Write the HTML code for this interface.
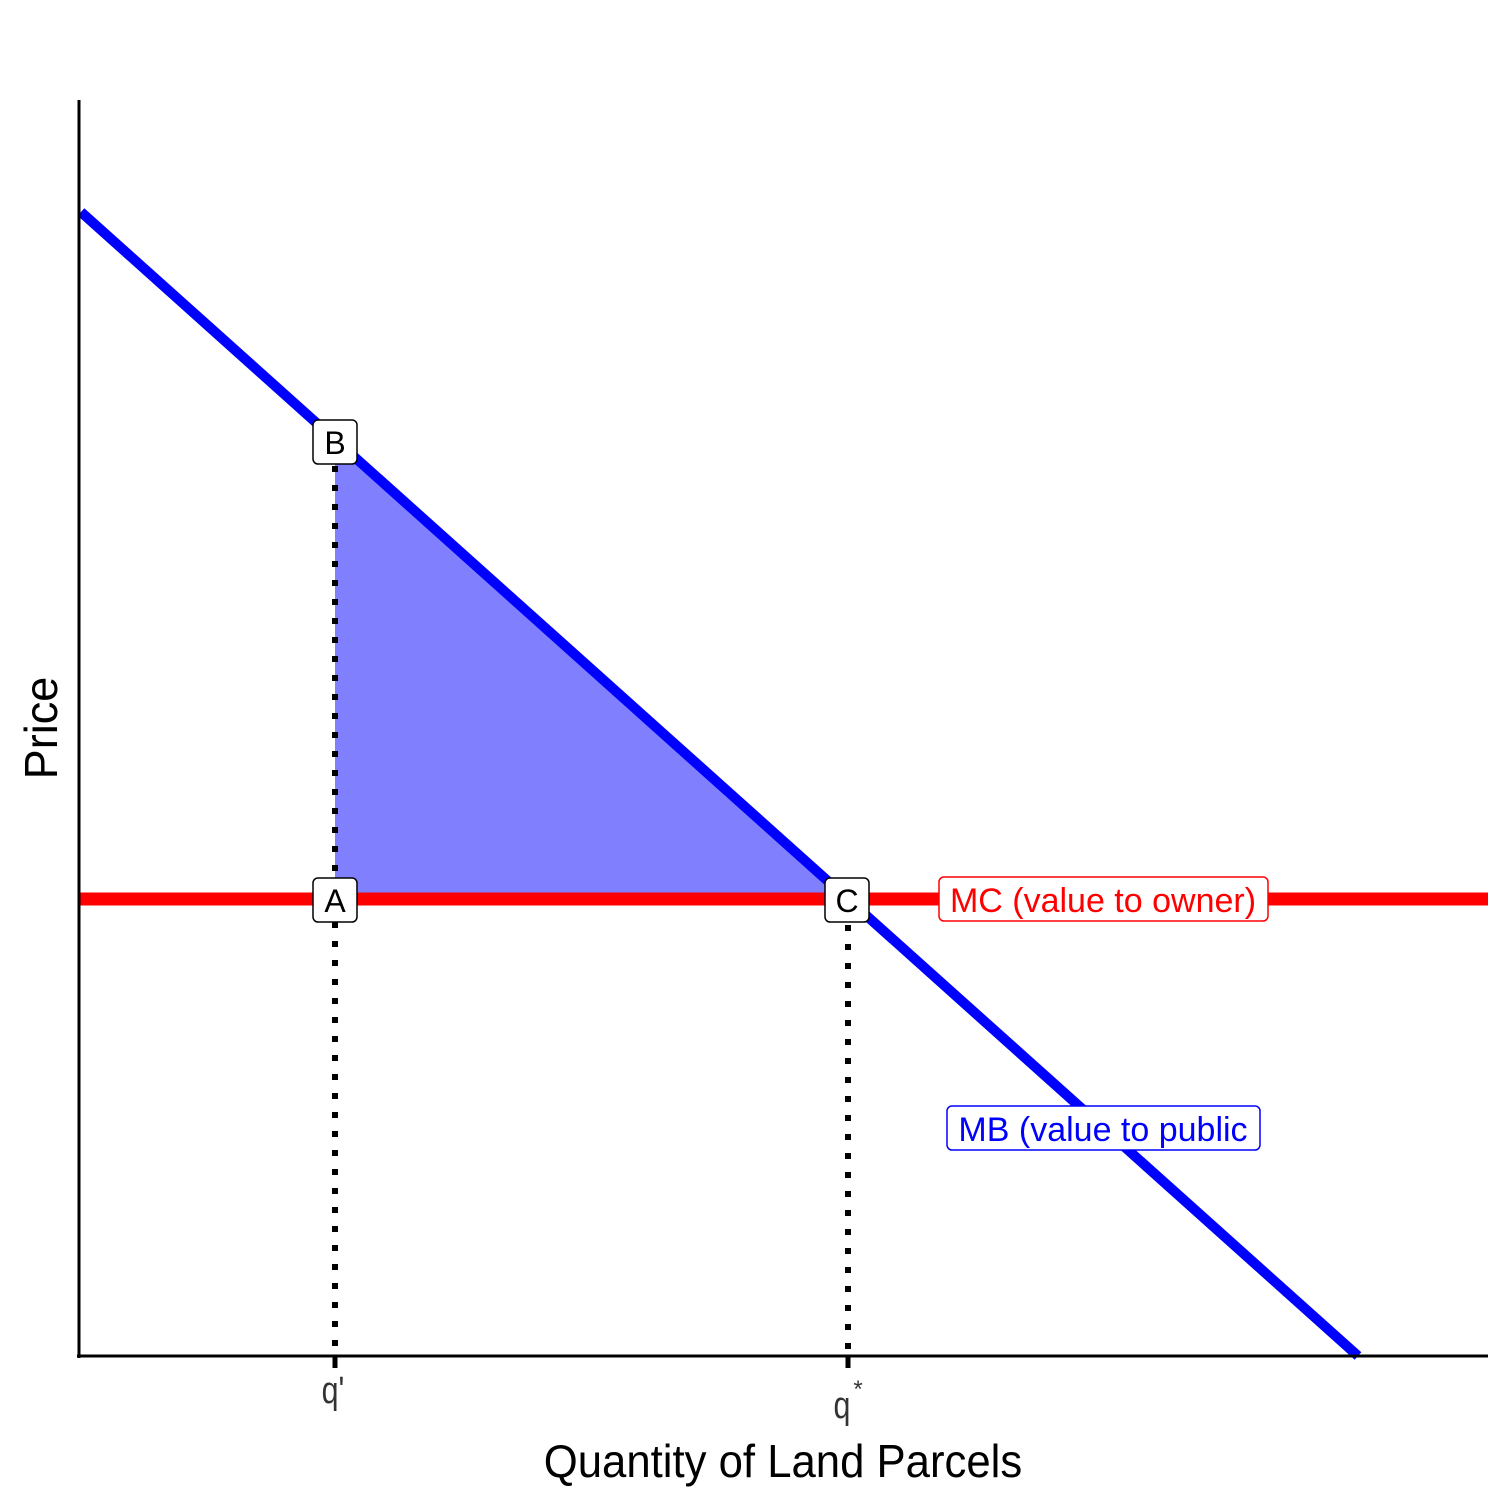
<!DOCTYPE html>
<html><head><style>body{margin:0;background:#fff}svg{display:block}</style></head>
<body>
<svg width="1512" height="1512" viewBox="0 0 1512 1512" xmlns="http://www.w3.org/2000/svg">
<rect width="1512" height="1512" fill="#fff"/>
<polygon points="335,440 335,899 848,899" fill="#8080ff"/>
<line x1="79" y1="899" x2="1488" y2="899" stroke="#ff0000" stroke-width="13"/>
<line x1="81" y1="212" x2="1358" y2="1356" stroke="#0000ff" stroke-width="10"/>
<line x1="335" y1="466" x2="335" y2="1356" stroke="#000" stroke-width="6" stroke-dasharray="6,13"/>
<line x1="848" y1="925" x2="848" y2="1356" stroke="#000" stroke-width="6" stroke-dasharray="6,13"/>
<line x1="79" y1="100" x2="79" y2="1358" stroke="#000" stroke-width="3"/>
<line x1="77" y1="1356" x2="1488" y2="1356" stroke="#000" stroke-width="3"/>
<line x1="335" y1="1356" x2="335" y2="1368" stroke="#000" stroke-width="5"/>
<line x1="848" y1="1356" x2="848" y2="1368" stroke="#000" stroke-width="5"/>
<g font-family="Liberation Sans, sans-serif" font-size="32" text-anchor="middle">
<rect x="313" y="420" width="44" height="44" rx="5" fill="#fff" stroke="#000" stroke-width="1.5"/>
<text x="335" y="454">B</text>
<rect x="313" y="878" width="44" height="44" rx="5" fill="#fff" stroke="#000" stroke-width="1.5"/>
<text x="335" y="912">A</text>
<rect x="825" y="878" width="44" height="44" rx="5" fill="#fff" stroke="#000" stroke-width="1.5"/>
<text x="847" y="912">C</text>
<rect x="939" y="877" width="329" height="44" rx="5" fill="#fff" stroke="#ff0000" stroke-width="1.5"/>
<text x="1103" y="912" fill="#ff0000" font-size="34">MC (value to owner)</text>
<rect x="947" y="1106" width="313" height="44" rx="5" fill="#fff" stroke="#0000ff" stroke-width="1.5"/>
<text x="1103" y="1141" fill="#0000ff" font-size="34">MB (value to public</text>
</g>
<g font-family="Liberation Sans, sans-serif" fill="#333" text-anchor="middle">
<text x="333" y="1403" font-size="38" transform="translate(333,0) scale(0.8,1) translate(-333,0)">q'</text>
<text x="842" y="1418" font-size="38" transform="translate(842,0) scale(0.8,1) translate(-842,0)">q</text>
<text x="858" y="1397" font-size="24">*</text>
</g>
<g font-family="Liberation Sans, sans-serif" fill="#000" font-size="46" text-anchor="middle">
<text x="783" y="1477" transform="translate(783,0) scale(0.95,1) translate(-783,0)">Quantity of Land Parcels</text>
<text transform="translate(57,728) rotate(-90) scale(0.98,1)">Price</text>
</g>
</svg>
</body></html>
